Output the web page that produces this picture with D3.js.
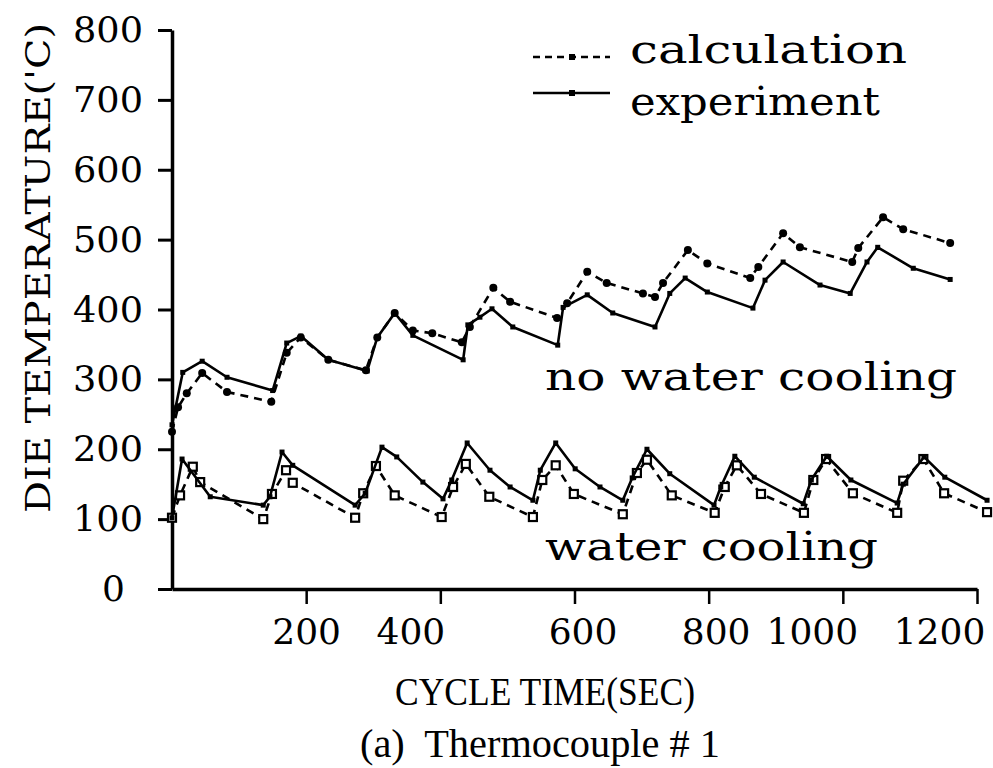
<!DOCTYPE html>
<html><head><meta charset="utf-8">
<script src="https://cdn.jsdelivr.net/npm/d3@7/dist/d3.min.js"></script>
<style>html,body{margin:0;padding:0;background:#fff;}svg{display:block;}</style>
</head><body>
<svg id="chart" width="993" height="768"></svg>
<script>
// ---- data (time in sec, temperature in deg C) ----
const xTickValues = [200, 400, 600, 800, 1000, 1200];
const yTickValues = [0, 100, 200, 300, 400, 500, 600, 700, 800];

const noWaterExpTime = [0,16,45,82,150,171,192,233,291,306,332,359,434,441,459,477,508,575,583,619,657,720,742,765,798,866,884,911,966,1011,1036,1052,1105,1160];
const noWaterExpTemp = [235,310,326,303,284,352,362,328,312,360,395,363,328,378,389,401,375,349,403,421,395,375,423,445,425,402,442,468,435,423,468,489,459,443];

const noWaterCalcTime = [0,9,22,45,82,148,171,192,233,289,306,332,359,388,432,444,479,504,574,589,619,648,702,720,732,769,798,862,874,911,936,1014,1023,1060,1090,1160];
const noWaterCalcTemp = [225,260,280,309,282,268,338,360,328,313,360,395,370,366,353,375,431,411,388,409,454,438,423,418,438,485,466,445,461,509,489,468,488,532,515,495];

const waterExpTime = [0,15,57,136,146,164,180,273,288,313,335,374,404,417,440,474,504,538,549,572,601,638,672,686,708,742,808,818,839,868,941,953,976,1012,1081,1090,1121,1152,1215];
const waterExpTemp = [102,186,132,120,132,196,177,120,137,203,189,153,129,156,209,170,146,127,170,209,172,146,127,159,200,165,120,146,190,160,122,156,190,156,123,150,189,160,127];

const waterCalcTime = [0,12,31,42,136,149,170,180,273,285,304,332,402,419,438,473,538,552,572,599,672,693,708,745,809,824,842,878,942,956,975,1015,1081,1090,1120,1151,1215];
const waterCalcTemp = [102,134,175,153,100,136,170,152,102,137,176,134,103,146,179,132,103,156,177,136,107,166,185,134,109,146,177,136,109,156,186,137,109,155,186,137,110];

const legendLabels = ["calculation", "experiment"];
const groupLabels = ["no water cooling", "water cooling"];
const yAxisTitle = "DIE TEMPERATURE('C)";
const xAxisTitle = "CYCLE TIME(SEC)";
const chartCaption = "(a)  Thermocouple # 1";

// ---- drawing ----
const svg = d3.select("#chart");
const typeFont = "'DejaVu Serif', 'Liberation Serif', serif";
const serif = "'Liberation Serif', 'Times New Roman', serif";

const x = d3.scaleLinear().domain([0, 1200]).range([172, 977]);
const y = d3.scaleLinear().domain([0, 800]).range([589, 30]);

// y axis
const gy = svg.append("g").attr("transform", `translate(${x(0)},0)`)
  .call(d3.axisLeft(y).tickValues(yTickValues).tickSize(14).tickSizeOuter(0).tickPadding(15).tickFormat(d => d));
gy.select(".domain").attr("stroke", "#000").attr("stroke-width", 3.5);
gy.selectAll(".tick line").attr("stroke", "#000").attr("stroke-width", 3);
gy.selectAll(".tick text").attr("font-family", typeFont).attr("font-size", 36).attr("fill", "#000")
  .attr("textLength", d => d === 0 ? null : 70).attr("lengthAdjust", "spacingAndGlyphs")
  .attr("dx", d => d === 0 ? -18 : 0);

// x axis
const xLabelShift = {200: 0, 400: -30, 600: 8, 800: 7, 1000: -31, 1200: -38};
const gx = svg.append("g").attr("transform", `translate(0,${y(0)})`)
  .call(d3.axisBottom(x).tickValues(xTickValues).tickSize(15).tickSizeOuter(0).tickPadding(14).tickFormat(d => d));
gx.select(".domain").attr("stroke", "#000").attr("stroke-width", 3.5);
gx.selectAll(".tick line").attr("stroke", "#000").attr("stroke-width", 2.5);
gx.selectAll(".tick text").attr("font-family", typeFont).attr("font-size", 36).attr("fill", "#000")
  .attr("dx", d => xLabelShift[d]);

// series
const zip = (t, v) => t.map((d, i) => [d, v[i]]);
const line = d3.line().x(d => x(d[0])).y(d => y(d[1]));
const series = [
  {data: zip(noWaterCalcTime, noWaterCalcTemp), dash: "8,6", marker: "circle"},
  {data: zip(noWaterExpTime, noWaterExpTemp), dash: null, marker: "dot"},
  {data: zip(waterCalcTime, waterCalcTemp), dash: "8,6", marker: "square"},
  {data: zip(waterExpTime, waterExpTemp), dash: null, marker: "dot"}
];
series.forEach(s => {
  svg.append("path").datum(s.data).attr("d", line)
    .attr("fill", "none").attr("stroke", "#000").attr("stroke-width", 2.6)
    .attr("stroke-dasharray", s.dash).attr("stroke-linejoin", "round");
  const g = svg.append("g");
  if (s.marker === "circle") {
    g.selectAll("circle").data(s.data).join("circle")
      .attr("cx", d => x(d[0])).attr("cy", d => y(d[1])).attr("r", 4).attr("fill", "#000");
  } else if (s.marker === "square") {
    g.selectAll("rect").data(s.data).join("rect")
      .attr("x", d => x(d[0]) - 4).attr("y", d => y(d[1]) - 4).attr("width", 8).attr("height", 8)
      .attr("fill", "#fff").attr("stroke", "#000").attr("stroke-width", 2.2);
  } else {
    g.selectAll("rect").data(s.data).join("rect")
      .attr("x", d => x(d[0]) - 2.5).attr("y", d => y(d[1]) - 2.5).attr("width", 5).attr("height", 5)
      .attr("fill", "#000");
  }
});

// legend
const legend = svg.append("g");
const legRows = [{y: 57, ty: 63, dash: "7,5"}, {y: 93, ty: 115, dash: null}];
legRows.forEach((r, i) => {
  legend.append("line").attr("x1", 533).attr("x2", 610).attr("y1", r.y).attr("y2", r.y)
    .attr("stroke", "#000").attr("stroke-width", 2.6).attr("stroke-dasharray", r.dash);
  legend.append("rect").attr("x", 569).attr("y", r.y - 3).attr("width", 6).attr("height", 6).attr("fill", "#000");
  legend.append("text").attr("x", 630).attr("y", r.ty).text(legendLabels[i])
    .attr("font-family", typeFont).attr("font-size", 40).attr("fill", "#000")
    .attr("textLength", i === 0 ? 277 : 250).attr("lengthAdjust", "spacingAndGlyphs");
});

// group annotations
[{t: groupLabels[0], x: 545, y: 390, w: 412}, {t: groupLabels[1], x: 545, y: 560, w: 333}].forEach(a => {
  svg.append("text").attr("x", a.x).attr("y", a.y).text(a.t)
    .attr("font-family", typeFont).attr("font-size", 40).attr("fill", "#000")
    .attr("textLength", a.w).attr("lengthAdjust", "spacingAndGlyphs");
});

// y axis title
svg.append("text").attr("transform", "translate(50,268) rotate(-90)")
  .attr("text-anchor", "middle").text(yAxisTitle)
  .attr("font-family", typeFont).attr("font-size", 34).attr("fill", "#000")
  .attr("textLength", 490).attr("lengthAdjust", "spacingAndGlyphs");

// x axis title & caption
svg.append("text").attr("x", 545).attr("y", 705).attr("text-anchor", "middle").text(xAxisTitle)
  .attr("font-family", serif).attr("font-size", 40).attr("fill", "#000")
  .attr("textLength", 300).attr("lengthAdjust", "spacingAndGlyphs");
svg.append("text").attr("x", 540).attr("y", 757).attr("text-anchor", "middle").text(chartCaption)
  .attr("font-family", serif).attr("font-size", 40).attr("fill", "#000")
  .attr("xml:space", "preserve").style("white-space", "pre")
  .attr("textLength", 360).attr("lengthAdjust", "spacingAndGlyphs");
</script>
</body></html>
